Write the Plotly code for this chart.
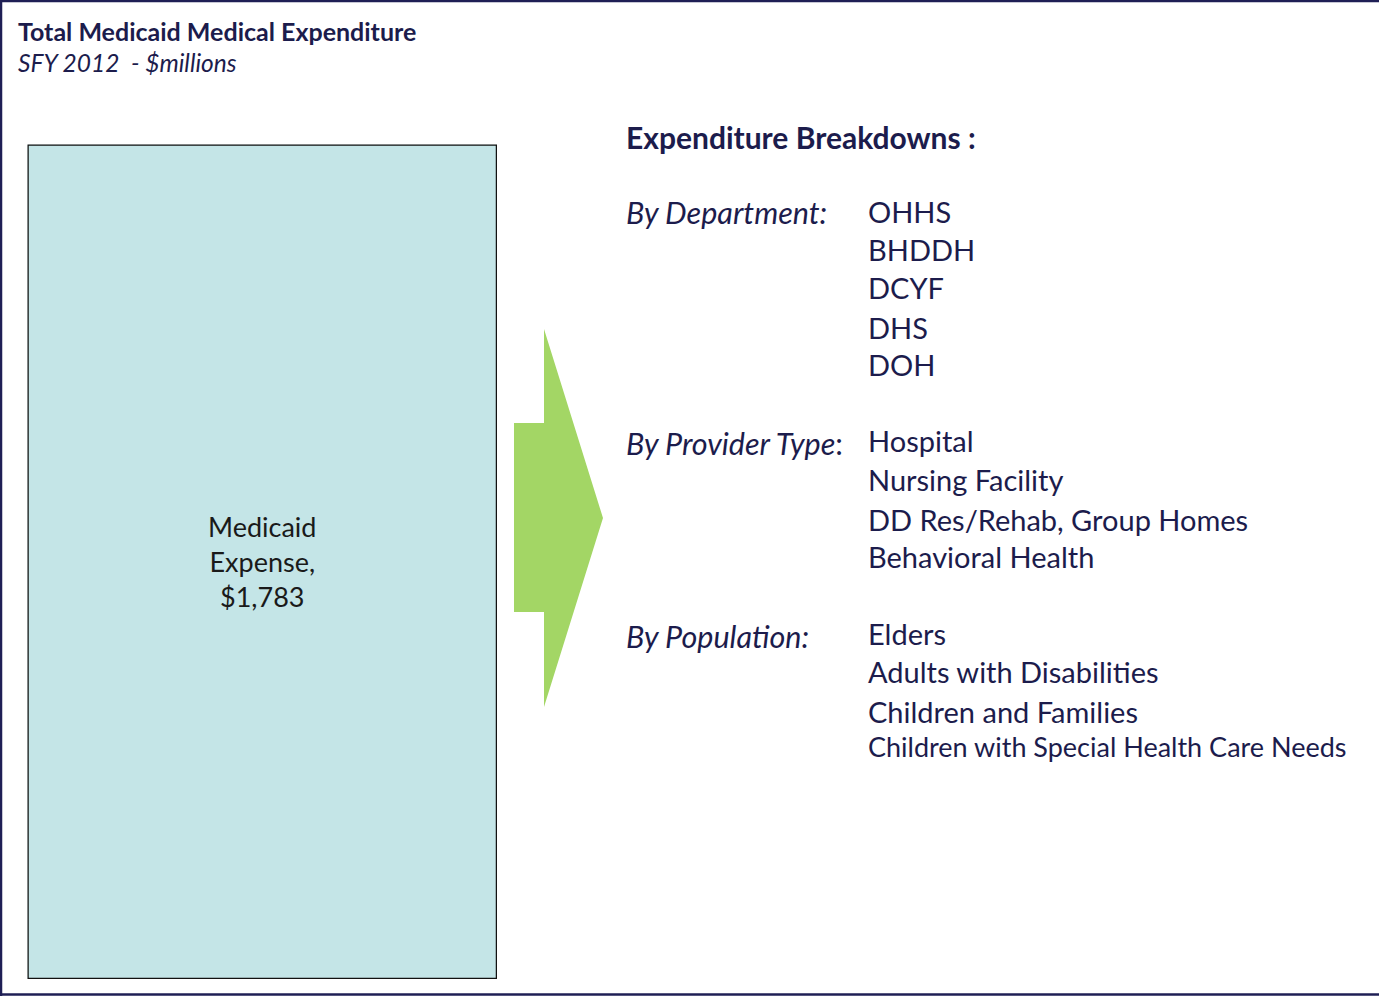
import plotly.graph_objects as go

W, H = 1379, 996

# ---- data ----
categories = ["Medicaid Expense"]
values = [1783]
title_text = "Total Medicaid Medical Expenditure"
subtitle_text = "SFY 2012  - $millions"
breakdown_heading = "Expenditure Breakdowns"
group_labels = ["By Department:", "By Provider Type", "By Population:"]
dept_items = ["OHHS", "BHDDH", "DCYF", "DHS", "DOH"]
provider_items = ["Hospital", "Nursing Facility", "DD Res/Rehab, Group Homes", "Behavioral Health"]
population_items = ["Elders", "Adults with Disabilities", "Children and Families",
                    "Children with Special Health Care Needs"]

NAVY = "#1C1C4C"
FONT = "Lato"

def px(x):
    return x / W

def py(y):
    return 1 - y / H

fig = go.Figure()
fig.add_trace(go.Bar(
    x=[0], y=values, width=1,
    marker=dict(color="#C4E5E7", line=dict(color="#111111", width=2.5)),
    text=[f"Medicaid<br>Expense,<br>${values[0]:,}"],
    textposition="inside", insidetextanchor="middle",
    textfont=dict(family=FONT, size=27, color="#1a1a1a"),
    hoverinfo="skip",
))

fig.update_layout(
    width=W, height=H,
    margin=dict(l=0, r=0, t=0, b=0),
    paper_bgcolor="white", plot_bgcolor="rgba(0,0,0,0)",
    showlegend=False,
    xaxis=dict(domain=[px(27.5), px(497)], range=[-0.5, 0.5], visible=False, fixedrange=True),
    yaxis=dict(domain=[py(979), py(144.5)], range=[0, values[0]], visible=False, fixedrange=True),
)

shapes = []
# outer frame (top, left, bottom)
for (x0, y0, x1, y1) in [(0, 1, W, 1), (1, 0, 1, H), (0, 994.5, W, 994.5)]:
    shapes.append(dict(type="line", xref="paper", yref="paper",
                       x0=px(x0), y0=py(y0), x1=px(x1), y1=py(y1),
                       line=dict(color="#1F1F55", width=2.5)))
# arrow
pts = [(514, 423), (544, 423), (544, 329), (603, 518), (544, 707), (544, 612), (514, 612)]
path = "M " + " L ".join(f"{px(x):.5f},{py(y):.5f}" for x, y in pts) + " Z"
shapes.append(dict(type="path", xref="paper", yref="paper", path=path,
                   fillcolor="#A3D665", line=dict(width=0)))
fig.update_layout(shapes=shapes)

ann = []
def text(s, x, y, size, bold=False, italic=False, color=NAVY):
    if bold:
        s = f"<b>{s}</b>"
    if italic:
        s = f"<i>{s}</i>"
    ann.append(dict(text=s, x=px(x), y=py(y), xref="paper", yref="paper",
                    xanchor="left", yanchor="middle", showarrow=False,
                    font=dict(family=FONT, size=size, color=color)))

text(title_text, 16, 31, 25, bold=True)
text(subtitle_text, 16, 62, 24.5, italic=True)
text(breakdown_heading + " :", 624, 137, 30, bold=True)

text(group_labels[0], 624, 212, 30.5, italic=True)
text("<i>" + group_labels[1] + "</i>:", 624, 443, 30.5)
text(group_labels[2], 624, 636, 30.5, italic=True)

dept_y = [212, 249, 287, 327, 364]
prov_y = [441, 479, 519, 556]
pop_y = [633, 671, 711, 746]
for s, y in zip(dept_items, dept_y):
    text(s, 866, y, 29)
for s, y in zip(provider_items, prov_y):
    text(s, 866, y, 29)
for i, (s, y) in enumerate(zip(population_items, pop_y)):
    text(s, 866, y, 29 if i < 3 else 27)

fig.update_layout(annotations=ann)
fig.write_html("out.html", config={"displayModeBar": False},
               post_script="document.body.style.margin='0';document.body.style.overflow='hidden';")
